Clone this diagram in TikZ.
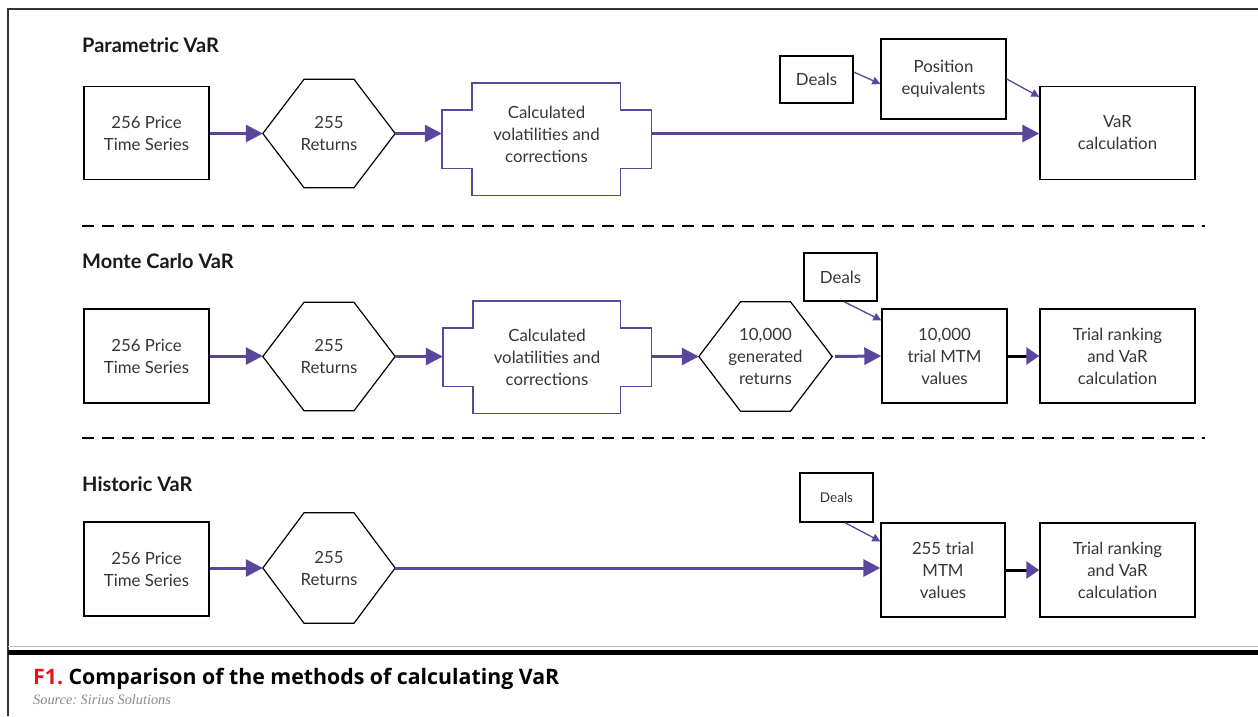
\documentclass[tikz,border=0pt]{standalone}
\usepackage{fontspec}
\setmainfont{Lato}
\newfontfamily\capfont{Open Sans}
\newfontfamily\srcfont{Liberation Serif}
\usetikzlibrary{arrows.meta,calc}
\definecolor{vpurple}{HTML}{5B469E}
\definecolor{txt}{HTML}{363636}
\definecolor{capred}{HTML}{E3141B}
\definecolor{srcgray}{HTML}{8A8A8A}
\frenchspacing
\begin{document}
\begin{tikzpicture}[x=1pt,y=-1pt,
  lbl/.style={align=center, text=txt, inner sep=0pt, font=\fontsize{16.8}{22}\selectfont},
  box/.style={lbl, draw=black, line width=1.4pt, fill=white},
  hexnode/.style={lbl, minimum width=132, minimum height=108},
  crossnode/.style={lbl, minimum width=209, minimum height=112},
  hexline/.style={draw=black, line width=1.2pt},
  crossline/.style={draw=vpurple, line width=1.4pt},
  thickarrow/.style={draw=vpurple, line width=3pt, -{Triangle[length=17pt,width=17pt]}},
  thinarrow/.style={draw=vpurple, line width=1.3pt, -{Triangle[length=8pt,width=8pt]}},
  blackarrow/.style={draw=black, line width=3pt, -{Triangle[length=13pt,width=17pt,color=vpurple]}},
  dashline/.style={draw=black, line width=2.2pt, dash pattern=on 12pt off 8pt},
  title/.style={anchor=base west, inner sep=0pt, text=black!90, font=\fontsize{20}{24}\selectfont\bfseries}
]
\useasboundingbox (0,0) rectangle (1258,716);

% frame
\draw[line width=1.2pt, black!80] (8,716) -- (8,9) -- (1258,9);
\draw[line width=1pt, black!25] (8,646.5) -- (1258,646.5);
\draw[line width=5pt, black] (8,652) -- (1258,652);

% titles
\node[title] (t1) at (82,52) {Parametric VaR};
\node[title] (t2) at (82,268) {Monte Carlo VaR};
\node[title] (t3) at (82,491) {Historic VaR};

% dashed separators
\draw[dashline] (82,226) -- (1205,226);
\draw[dashline] (82,438) -- (1205,438);

% ---------- Row 1: Parametric ----------
\node[box, minimum width=125, minimum height=93] (p1) at (146.5,133) {256 Price\\Time Series};
\node[hexnode] (h1) at (329,133.5) {255\\Returns};
\draw[hexline] (h1.west) -- ($(h1.north)+(-25,0)$) -- ($(h1.north)+(25,0)$) -- (h1.east) -- ($(h1.south)+(25,0)$) -- ($(h1.south)+(-25,0)$) -- cycle;
\node[crossnode] (c1) at (546.5,139) {};
\draw[crossline] ($(c1.north west)+(30,0)$) -- ($(c1.north east)+(-31,0)$) -- ++(0,27) -- ++(31,0) -- ($(c1.south east)+(0,-27)$) -- ++(-31,0) -- ++(0,27) -- ($(c1.south west)+(30,0)$) -- ++(0,-27) -- ++(-30,0) -- ($(c1.north west)+(0,27)$) -- ++(30,0) -- cycle;
\node[lbl] (c1t) at (546.5,134) {Calculated\\volatilities and\\corrections};
\node[box, minimum width=155, minimum height=93] (v1) at (1117.5,133) {VaR\\calculation};
\node[box, minimum width=73, minimum height=47] (d1) at (816.5,79.5) {Deals};
\node[box, minimum width=125, minimum height=80] (pe) at (943.5,79) {Position\\equivalents};

\draw[thickarrow] (p1.east |- h1.west) -- (h1.west);
\draw[thickarrow] (h1.east) -- (h1.east -| c1.west);
\draw[thickarrow] (h1.east -| c1.east) -- (h1.east -| v1.west);
\draw[thinarrow] ([yshift=7.5pt]d1.east) -- ([yshift=-5pt]pe.west);
\draw[thinarrow] (pe.east) -- ([yshift=-11pt]v1.north west);

% ---------- Row 2: Monte Carlo ----------
\node[box, minimum width=125, minimum height=94] (p2) at (146.5,356) {256 Price\\Time Series};
\node[hexnode] (h2) at (329,356.5) {255\\Returns};
\draw[hexline] (h2.west) -- ($(h2.north)+(-25,0)$) -- ($(h2.north)+(25,0)$) -- (h2.east) -- ($(h2.south)+(25,0)$) -- ($(h2.south)+(-25,0)$) -- cycle;
\node[crossnode, minimum width=208] (c2) at (547,357) {Calculated\\volatilities and\\corrections};
\draw[crossline] ($(c2.north west)+(30,0)$) -- ($(c2.north east)+(-31,0)$) -- ++(0,27) -- ++(31,0) -- ($(c2.south east)+(0,-27)$) -- ++(-31,0) -- ++(0,27) -- ($(c2.south west)+(30,0)$) -- ++(0,-27) -- ++(-30,0) -- ($(c2.north west)+(0,27)$) -- ++(30,0) -- cycle;
\node[hexnode, minimum width=133, minimum height=109] (g2) at (765.5,356.5) {10,000\\generated\\returns};
\draw[hexline] (g2.west) -- ($(g2.north)+(-25,0)$) -- ($(g2.north)+(25,0)$) -- (g2.east) -- ($(g2.south)+(25,0)$) -- ($(g2.south)+(-25,0)$) -- cycle;
\node[box, minimum width=125, minimum height=94] (m2) at (944.5,356) {10,000\\trial MTM\\values};
\node[box, minimum width=73, minimum height=48] (d2) at (840.5,277) {Deals};
\node[box, minimum width=155, minimum height=94] (r2) at (1117.5,356) {Trial ranking\\and VaR\\calculation};

\draw[thickarrow] (p2.east) -- (p2.east -| h2.west);
\draw[thickarrow] (h2.east) -- (h2.east -| c2.west);
\draw[thickarrow] (h2.east -| c2.east) -- (g2.west);
\draw[thickarrow, shorten <=3pt] (g2.east) -- (m2.west);
\draw[thinarrow] ([xshift=3.5pt]d2.south) -- ([yshift=-12pt]m2.north west);
\draw[blackarrow] (m2.east) -- (r2.west);

% ---------- Row 3: Historic ----------
\node[box, minimum width=125, minimum height=94] (p3) at (146.5,569) {256 Price\\Time Series};
\node[hexnode, minimum height=110] (h3) at (329,568) {255\\Returns};
\draw[hexline] (h3.west) -- ($(h3.north)+(-25,0)$) -- ($(h3.north)+(25,0)$) -- (h3.east) -- ($(h3.south)+(25,0)$) -- ($(h3.south)+(-25,0)$) -- cycle;
\node[box, minimum width=124, minimum height=94] (m3) at (943,570) {255 trial\\MTM\\values};
\node[box, minimum width=73, minimum height=49, font=\fontsize{13.5}{16}\selectfont] (d3) at (836.5,497.5) {Deals};
\node[box, minimum width=155, minimum height=94] (r3) at (1117.5,570) {Trial ranking\\and VaR\\calculation};

\draw[thickarrow] (p3.east |- h3.west) -- (h3.west);
\draw[thickarrow] (h3.east) -- (h3.east -| m3.west);
\draw[thinarrow] ([xshift=8.5pt]d3.south) -- ([yshift=-19pt]m3.north west);
\draw[blackarrow] (m3.east) -- (r3.west);

% caption
\node[anchor=base west, inner sep=0pt, font=\capfont\fontsize{21.3}{24}\selectfont\bfseries] (cap) at (33,684) {\textcolor{capred}{F1.} Comparison of the methods of calculating VaR};
\node[anchor=base west, inner sep=0pt, text=srcgray, font=\srcfont\fontsize{14.3}{16}\selectfont\itshape] (src) at (33,704) {Source: Sirius Solutions};
\end{tikzpicture}
\end{document}
